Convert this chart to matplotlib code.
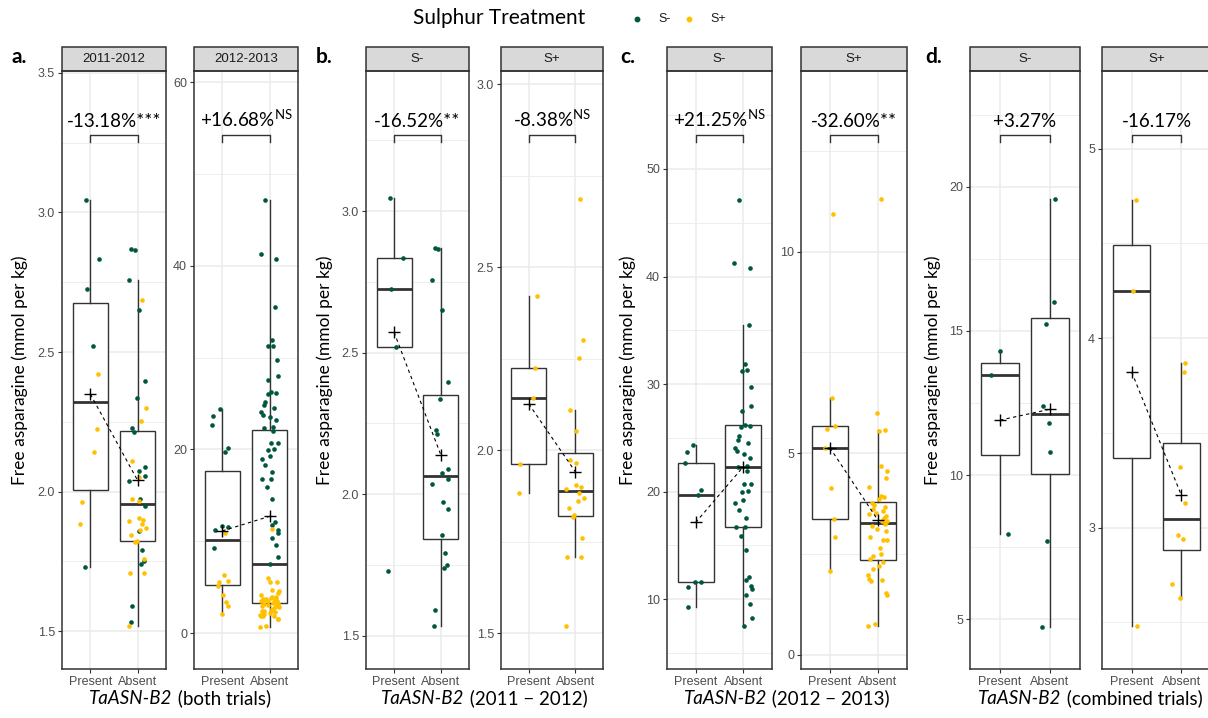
import matplotlib
matplotlib.use("Agg")
import numpy as np
import matplotlib.pyplot as plt
from matplotlib.lines import Line2D
from matplotlib.patches import Rectangle
from matplotlib.offsetbox import TextArea, HPacker, AnnotationBbox

plt.rcParams["font.family"] = ["Lato", "DejaVu Sans"]
plt.rcParams["mathtext.fontset"] = "custom"
plt.rcParams["mathtext.rm"] = "Lato"

GREEN = "#00573F"
YELLOW = "#FFC000"
GENOTYPES = ["Present", "Absent"]

# ---- data (free asparagine, mmol per kg) ----
# 2011-2012, S-
b_sm_present = [3.046, 2.835, 2.726, 2.521, 1.730]
b_sm_present_jit = [-0.09, 0.19, -0.07, 0.05, -0.12]
b_sm_absent = [2.869, 2.867, 2.758, 2.651, 2.397, 2.336, 2.226, 2.214, 2.089, 2.073,
               2.055, 2.037, 1.972, 1.948, 1.857, 1.792, 1.751, 1.739, 1.591, 1.534]
b_sm_absent_jit = [-0.13, -0.06, -0.18, 0.02, 0.15, -0.01, -0.11, -0.08, 0.15, 0.02,
                   0.15, -0.18, 0.05, 0.15, 0.02, 0.09, 0.14, 0.07, -0.12, -0.15]
# 2011-2012, S+
b_sp_present = [2.421, 2.224, 2.143, 1.961, 1.882]
b_sp_present_jit = [0.17, 0.14, 0.08, -0.18, -0.21]
b_sp_absent = [2.685, 2.301, 2.253, 2.110, 2.052, 1.973, 1.966, 1.906, 1.899, 1.893,
               1.884, 1.870, 1.861, 1.843, 1.822, 1.818, 1.759, 1.709, 1.709, 1.519]
b_sp_absent_jit = [0.10, 0.17, 0.08, -0.12, 0.02, -0.12, 0.02, 0.02, 0.12, -0.19,
                   0.09, 0.18, 0.05, -0.14, -0.02, -0.05, 0.14, -0.17, 0.13, -0.19]
# 2012-2013, S-
c_sm_present = [24.35, 23.67, 22.65, 20.17, 19.70, 11.65, 11.59, 11.18, 9.29]
c_sm_present_jit = [-0.05, -0.19, -0.22, 0.11, 0.06, -0.01, 0.11, -0.15, -0.17]
c_sm_absent = [47.15, 41.29, 40.77, 35.50, 31.91, 31.29, 31.23, 29.71, 28.00, 27.54,
               26.21, 26.14, 26.05, 25.21, 24.81, 24.50, 24.04, 23.80, 23.51, 23.17,
               22.40, 22.30, 21.96, 20.75, 20.70, 20.05, 19.95, 19.27, 18.99, 18.31,
               17.57, 16.76, 16.76, 15.86, 14.59, 12.11, 11.80, 11.25, 10.94, 10.41,
               9.57, 8.30, 7.53]
c_sm_absent_jit = [-0.10, -0.19, 0.13, 0.12, 0.04, 0.07, -0.03, 0.15, 0.17, -0.03,
                   0.03, 0.13, -0.04, -0.09, -0.11, 0.10, -0.18, -0.14, 0.01, 0.13,
                   0.08, -0.12, 0.07, 0.17, 0.02, 0.09, -0.03, 0.00, -0.17, -0.10,
                   0.06, -0.16, 0.03, -0.05, 0.06, 0.12, 0.06, 0.17, 0.18, 0.06,
                   0.13, 0.18, 0.01]
# 2012-2013, S+
c_sp_present = [10.93, 6.37, 5.68, 5.60, 5.13, 4.14, 3.37, 2.92, 2.09]
c_sp_present_jit = [0.06, 0.04, 0.11, -0.07, -0.10, 0.02, 0.08, 0.11, 0.00]
c_sp_absent = [11.30, 6.01, 5.58, 5.55, 4.69, 4.57, 4.38, 4.17, 3.95, 3.92,
               3.87, 3.76, 3.72, 3.66, 3.61, 3.57, 3.53, 3.49, 3.45, 3.39,
               3.33, 3.31, 3.25, 3.20, 3.11, 3.08, 2.92, 2.84, 2.84, 2.65,
               2.50, 2.45, 2.38, 2.30, 2.21, 2.12, 1.97, 1.88, 1.86, 1.82,
               1.53, 1.49, 0.76, 0.72]
c_sp_absent_jit = [0.06, -0.03, 0.15, 0.01, 0.06, 0.19, 0.17, -0.18, 0.06, 0.13,
                   0.02, -0.13, -0.08, 0.14, -0.11, 0.11, -0.04, -0.18, 0.16, 0.12,
                   0.08, 0.18, 0.14, -0.12, -0.03, 0.17, -0.16, 0.11, 0.19, 0.04,
                   0.06, -0.11, -0.17, 0.11, 0.01, -0.11, -0.21, -0.19, 0.09, -0.15,
                   0.17, 0.18, -0.07, -0.20]
# combined trials
d_sm_present = [14.31, 13.46, 7.95]
d_sm_present_jit = [0.00, -0.19, 0.15]
d_sm_absent = [19.56, 16.01, 15.25, 12.39, 11.82, 10.80, 7.71, 4.74]
d_sm_absent_jit = [0.10, 0.07, -0.08, -0.15, -0.03, -0.01, -0.06, -0.17]
d_sp_present = [4.73, 4.25, 2.48]
d_sp_present_jit = [0.09, 0.03, 0.10]
d_sp_absent = [3.87, 3.82, 3.32, 3.13, 2.96, 2.94, 2.70, 2.63]
d_sp_absent_jit = [0.08, 0.06, -0.02, 0.07, -0.06, 0.03, -0.19, -0.03]

# percentage change labels (text, superscript)
pct_labels = [("-13.18%***", ""), ("+16.68%", "NS"),
              ("-16.52%**", ""), ("-8.38%", "NS"),
              ("+21.25%", "NS"), ("-32.60%**", ""),
              ("+3.27%", ""), ("-16.17%", "")]
strip_labels = ["2011-2012", "2012-2013", "S-", "S+", "S-", "S+", "S-", "S+"]
panel_letters = ["a.", "b.", "c.", "d."]
gene_suffixes = [" (both trials)", " (2011 \u2212 2012)", " (2012 \u2212 2013)", " (combined trials)"]

# ---- figure layout (pixels) ----
W, H = 1208, 718
fig = plt.figure(figsize=(W / 100, H / 100), dpi=100)
TOP, BOT = 71, 669
panel_x = [(62, 166), (194, 298), (366, 469), (501, 603),
           (667, 772), (801, 907), (970, 1080), (1102, 1211)]
ylims = [(1.364, 3.507), (-3.9, 61.2), (1.382, 3.495), (1.402, 3.036),
         (3.52, 59.1), (-0.35, 14.48), (3.28, 24.01), (2.253, 5.41)]
yticks = [[1.5, 2.0, 2.5, 3.0, 3.5], [0, 20, 40, 60], [1.5, 2.0, 2.5, 3.0], [1.5, 2.0, 2.5, 3.0],
          [10, 20, 30, 40, 50], [0, 5, 10], [5, 10, 15, 20], [3, 4, 5]]
ytick_fmt = ["%.1f", "%d", "%.1f", "%.1f", "%d", "%d", "%d", "%d"]

panels = [
    ([(b_sm_present, b_sm_present_jit, GREEN), (b_sp_present, b_sp_present_jit, YELLOW)],
     [(b_sm_absent, b_sm_absent_jit, GREEN), (b_sp_absent, b_sp_absent_jit, YELLOW)]),
    ([(c_sm_present, c_sm_present_jit, GREEN), (c_sp_present, c_sp_present_jit, YELLOW)],
     [(c_sm_absent, c_sm_absent_jit, GREEN), (c_sp_absent, c_sp_absent_jit, YELLOW)]),
    ([(b_sm_present, b_sm_present_jit, GREEN)], [(b_sm_absent, b_sm_absent_jit, GREEN)]),
    ([(b_sp_present, b_sp_present_jit, YELLOW)], [(b_sp_absent, b_sp_absent_jit, YELLOW)]),
    ([(c_sm_present, c_sm_present_jit, GREEN)], [(c_sm_absent, c_sm_absent_jit, GREEN)]),
    ([(c_sp_present, c_sp_present_jit, YELLOW)], [(c_sp_absent, c_sp_absent_jit, YELLOW)]),
    ([(d_sm_present, d_sm_present_jit, GREEN)], [(d_sm_absent, d_sm_absent_jit, GREEN)]),
    ([(d_sp_present, d_sp_present_jit, YELLOW)], [(d_sp_absent, d_sp_absent_jit, YELLOW)]),
]

EDGE = "#333333"
line_props = dict(color=EDGE, linewidth=1.0)

for i, (pres_sets, abs_sets) in enumerate(panels):
    x0, x1 = panel_x[i]
    ax = fig.add_axes([x0 / W, 1 - BOT / H, (x1 - x0) / W, (BOT - TOP) / H])

    present_all = np.concatenate([np.array(v) for v, _, _ in pres_sets])
    absent_all = np.concatenate([np.array(v) for v, _, _ in abs_sets])

    ax.boxplot([present_all, absent_all], positions=[1, 2], widths=0.75, whis=1.5,
               showfliers=False, showcaps=False, patch_artist=True, manage_ticks=False,
               boxprops=dict(facecolor="white", edgecolor=EDGE, linewidth=1.0),
               whiskerprops=line_props, medianprops=dict(color=EDGE, linewidth=2.0),
               zorder=2)

    for pos, sets in ((1, pres_sets), (2, abs_sets)):
        for vals, jit, col in sets:
            ax.scatter(pos + np.array(jit), vals, s=11, color=col, linewidths=0, zorder=3)

    means = [present_all.mean(), absent_all.mean()]
    ax.plot([1, 2], means, color="black", linestyle=(0, (3, 3)), linewidth=0.8, zorder=4)
    ax.plot([1, 2], means, linestyle="none", marker="+", markersize=8,
            markeredgewidth=1.0, color="black", zorder=5)

    # bracket and percentage label
    tr = ax.get_xaxis_transform()
    ax.plot([1, 1, 2, 2], [0.882, 0.893, 0.893, 0.882], color=EDGE, linewidth=1.0,
            transform=tr, clip_on=False, zorder=4)
    txt, sup = pct_labels[i]
    label = txt + (r"$^{\mathrm{%s}}$" % sup if sup else "")
    ax.text(1.5, 0.906, label, transform=tr, ha="center", va="baseline",
            fontsize=13.5, color="black")

    # ticks and grid (set before limits: set_ticks may widen the view)
    ticks = yticks[i]
    step = ticks[1] - ticks[0]
    minors = [t - step / 2 for t in ticks] + [ticks[-1] + step / 2]
    ax.set_yticks(ticks)
    ax.set_yticklabels([ytick_fmt[i] % t for t in ticks])
    ax.set_yticks(minors, minor=True)
    ax.tick_params(axis="y", which="minor", length=0)
    ax.set_xticks([1, 2])
    ax.set_xticklabels(GENOTYPES)
    ax.set_xlim(0.4, 2.6)
    ax.grid(True, which="major", color="#EBEBEB", linewidth=1.1)
    ax.grid(True, which="minor", axis="y", color="#EBEBEB", linewidth=0.6)
    ax.set_axisbelow(True)
    ax.tick_params(which="major", length=3, width=0.8, color=EDGE, pad=2,
                   labelsize=9, labelcolor="#4D4D4D")
    for lab in ax.get_xticklabels() + ax.get_yticklabels():
        lab.set_fontfamily("Liberation Sans")
    for sp in ax.spines.values():
        sp.set_color(EDGE)
        sp.set_linewidth(1.1)

    # strip
    sh = 24 / (BOT - TOP)
    ax.add_patch(Rectangle((0, 1), 1, sh, transform=ax.transAxes, clip_on=False,
                           facecolor="#D9D9D9", edgecolor=EDGE, linewidth=1.1))
    ax.text(0.5, 1 + sh / 2, strip_labels[i], transform=ax.transAxes, ha="center",
            va="center", fontsize=9.5, color="#1A1A1A", family="Liberation Sans")
    ax.set_ylim(*ylims[i])

# y labels, panel letters, gene labels
ylab_x = [20, 325, 628, 933]
letter_x = [12, 316, 620, 925]
for k in range(4):
    fig.text(ylab_x[k] / W, 1 - 370 / H, "Free asparagine (mmol per kg)", rotation=90,
             ha="center", va="center", fontsize=12.5)
    fig.text(letter_x[k] / W, 1 - 57 / H, panel_letters[k], ha="left", va="center",
             fontsize=15, fontweight="bold")
    xc = (panel_x[2 * k][0] + panel_x[2 * k + 1][1]) / 2
    box = HPacker(children=[TextArea("TaASN-B2", textprops=dict(style="italic", size=13.5)),
                            TextArea(gene_suffixes[k], textprops=dict(size=13.5))],
                  align="baseline", pad=0, sep=0)
    fig.add_artist(AnnotationBbox(box, (xc / W, 1 - 698 / H), xycoords="figure fraction",
                                  frameon=False, box_alignment=(0.5, 0.5)))

# legend
fig.text(413 / W, 1 - 18 / H, "Sulphur Treatment", ha="left", va="center", fontsize=15)
for xd, col, lab, xl in ((637, GREEN, "S-", 658), (689, YELLOW, "S+", 710)):
    fig.add_artist(Line2D([xd / W], [1 - 19 / H], marker="o", markersize=3.2,
                          color=col, linestyle="none"))
    fig.text(xl / W, 1 - 19 / H, lab, ha="left", va="center", fontsize=9,
             family="Liberation Sans", color="#1A1A1A")

fig.savefig("out.png", dpi=100)
